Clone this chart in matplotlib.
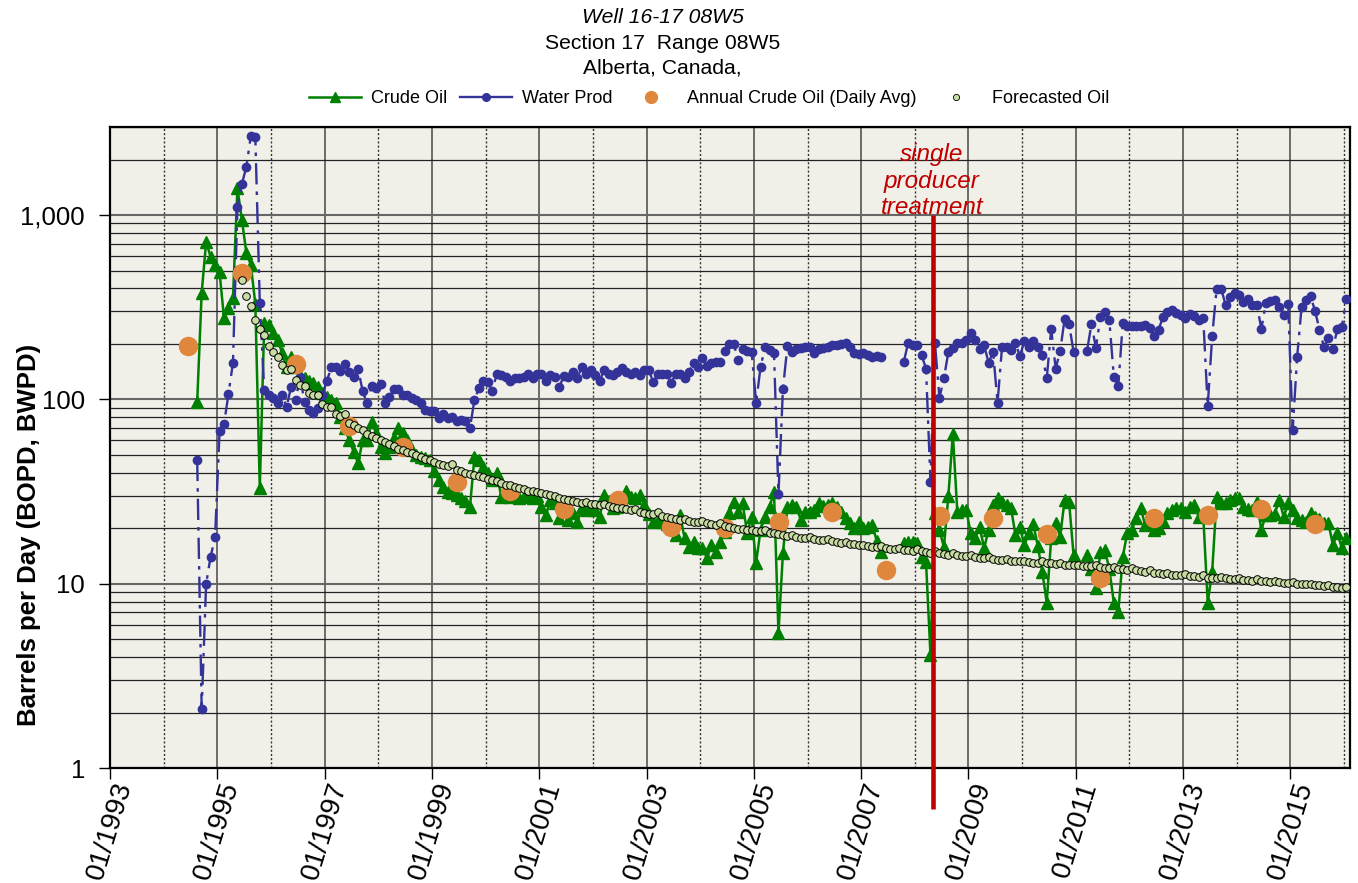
"""
Well 16-17 08W5 production plot: crude oil, water, annual average and forecast.
"""
import numpy as np
import matplotlib
matplotlib.use("Agg")
import matplotlib.pyplot as plt
from matplotlib.lines import Line2D
from matplotlib.ticker import FixedLocator, NullFormatter

plt.rcParams["font.family"] = ["Liberation Sans", "DejaVu Sans"]

NAN = np.nan

# monthly series start in Aug 1994 (one value per month)
MONTHLY_START = 1994 + 7 / 12

crude_oil = [
    97, 378, 714, 593, 536, 490, 276, 313, 355, 1400, 940, 623, 536, 330, 33,
    260, 252, 229, 210, 178, 150, 170, 150, 133, 130, 125, 123,
    117, 108, 103, 99, 96, 80, 70, 60, 52, 45,
    60, 60, 75, 66, 55, 51, 55, 62, 70, 66, 60, 53, 50, 48.5, 48, 47, 41, 36.5,
    33.5, 31.5, 31, 30.2, 29.2, 28, 26,
    48.5, 47, 43, 40, 36.5, 40, 29.5, 30, 29.5, 30, 29.2, 29.5, 29.8, 29.2, 30,
    26, 23.5, 28.5, 27.3, 22.7, 25, 22.2, 24.3, 21.6, 26, 25, 26, 25, 23, 30.2,
    28, 25.8, 26, 28, 32, 29.5, 29, 30.2,
    26.8, 24, 21.6, 22, 21.5, 21, 20, 18.4, 23.6, 17.7, 15.8, 16.8, 15.6, 15.6,
    13.8, 16.2, 14.9, 16.8, 19, 24.3, 27.7, 24.5, 27.3, 18.8, 23, 13, 19.6, 23,
    26, 31.5, 5.4,
    14.7, 26, 26.8, 26, 22.2, 24.5, 24.5, 25, 27.3, 26.5, 26.8, 27.3, 26, 24.5,
    22.7, 21.3, 20, 21.6, 20, 20.3, 20.8, 17, 14.9,
    NAN, NAN, NAN, NAN,
    16.6, 16.8, 16.8, 16.6, 14, 13.1, 4.1, 24.2, 19.5, 15.8, 30, 65, 24.5, 25,
    25, 18.8, 17.7, 20.3, 15.6, 19.6, 26.8, 29.2, 27.7, 26.8, 25.8, 18.4,
    20.3, 16.2, 18.8, 21, 16, 11.6, 7.9, 17.7, 21.3, 18, 28.5, 27.7, 14.3,
    NAN, NAN,
    14.3, 12, 9.5, 14.8, 15.2, 12, 7.9, 7.0, 14, 18.8, 19.6, 22.7, 25.8, 20.8,
    21.3, 19.6, 20, 22, 24.3, 25, 25.8, 25.8, 24.5, 26, 26.8, 23, 23.5, 7.9,
    11.6, 29.5, 27.3, 27.3, 28.5, 29.2, 29, 26, 25.5, 25, 27.7, 19.6, 23.6,
    23.6, 24, 28.5, 23, 27.3, 25, 22.7, 22.2, 21.6, 24.3, 23, 22.5, 21.3, 21.3,
    16.2, 18.8, 15.6, 17.7,
]

water_prod = [
    47, 2.1, 10, 14, 17.9, 67, 73.5, 107, 158, 1107, 1475, 1824, 2690, 2660, 334,
    112, 106, 102, 96, 106, 91, 117, 99, 133, 97, 88, 84, 90, 106, 126,
    149, 149, 143, 155, 141, 133, 146, 111, 95, 118, 115, 121, 96, 103, 114, 114,
    106, 106, 102, 99, 95.7, 88, 87, 87, 79, 83, 79, 80, 76, 77, 76, 70,
    99, 115, 126, 124, 111, 138, 135, 133, 126, 130, 130, 133, 137, 130, 138,
    137, 126, 135, 133, 117, 134, 133, 141, 130, 150, 138, 144, 135, 126, 144,
    138, 135, 140, 148, 140, 138, 141, 135, 144, 144, 124, 137, 137, 137, 122,
    138, 138, 130, 141,
    158, 149, 168, 151, 158, 160, 160, 183, 199, 199, 164, 188, 183, 181, 96,
    150, 192, 185, 179, 30.5, 114, 194, 181, 188, 190, 192, 192, 179, 188, 190,
    192, 198, 196, 200, 202, 192, 179, 176, 178, 174, 170, 172, 170,
    NAN, NAN, NAN, NAN,
    159, 202, 198, 198, 174, 147, 35.7, 202, 102, 130, 181, 190, 202, 202, 210,
    229, 210, 188, 196, 158, 181, 96, 192, 192, 185, 202, 172, 207, 192, 207,
    192, 174, 130, 240, 147, 183, 273, 256, 181,
    NAN, NAN,
    183, 256, 190, 281, 298, 268, 133, 118, 260, 250, 250, 250, 250, 253, 245,
    220, 239, 279, 298, 306, 295, 286, 277, 290, 283, 269, 277, 92, 220, 399,
    399, 325, 360, 377, 369, 338, 352, 325, 325, 241, 333, 342, 348, 318, 286,
    330, 68, 170, 318, 348, 363, 302, 239, 192, 215, 188, 241, 247, 352,
]

# forecast starts in Jun 1995 (one value per month)
FORECAST_START = 1995 + 5 / 12
forecast_oil = [
    444, 364, 321, 270, 241, 224, 195, 181, 170, 154, 144, 146, 127, 120, 118,
    108, 105, 105, 94, 91, 91, 83, 81, 83, 74.5, 73,
    70, 68, 65, 63, 62, 60, 59, 57.5, 56, 54, 53, 52, 51, 50, 48.5, 47.5, 47,
    45.5, 44.5, 44, 43.5, 44.5, 41.5, 41,
    40, 39.5, 39, 38.5, 38, 37, 36.5, 36, 35, 34.5, 34.3, 33.5, 33, 32.5, 32,
    31.8, 31.5, 31, 30.5, 30.2, 29.8, 29.2, 28.8, 28.6, 28.2, 27.7, 27.5, 27.7,
    27.2, 27, 26.8, 27, 26.3, 26, 25.8, 25.6,
    25.4, 25.2, 25.3, 24.5, 24.3, 24, 23.8, 24.5, 23.2, 23, 22.6, 22.3, 22.2,
    22.4, 21.8, 21.6, 21.5, 21.8, 21.3, 21, 20.8, 21.3, 20.5, 20.3, 20, 19.9,
    19.7, 19.6, 19.6, 19.4, 19.2, 19.6, 18.9, 18.8, 18.7, 18.4,
    18.1, 18.3, 17.9, 17.8, 17.7, 18, 17.4, 17.3, 17.2, 17.5, 17, 16.8, 16.7,
    16.9, 16.5, 16.4, 16.2, 16.3, 16, 15.9, 15.8, 16.1, 15.6, 15.5, 15.4, 15.6,
    15.3, 15.2, 15.1, 15.4, 15, 14.8, 14.7, 15, 14.6, 14.5,
    14.4, 14.7, 14.3, 14.2, 14.1, 14.3, 13.9, 13.8, 13.8, 14, 13.6, 13.5, 13.4,
    13.6, 13.3, 13.2,
    13.2, 13.3, 13.1, 13.0, 13.0, 13.2, 12.9, 12.9, 12.8, 13.0, 12.7, 12.7,
    12.6, 12.7, 12.5, 12.4, 12.4, 12.6, 12.3, 12.2, 12.1, 12.3, 12.0, 12.0,
    11.9, 12.1, 11.8, 11.7, 11.6, 11.8, 11.5, 11.4, 11.3, 11.5, 11.2, 11.1,
    11.1, 11.3, 11.0, 11.0, 10.9, 11.1, 10.8, 10.8, 10.7, 10.9, 10.7, 10.6,
    10.6, 10.8, 10.5, 10.5, 10.4, 10.6, 10.3, 10.3, 10.2, 10.4, 10.2, 10.1,
    10.1, 10.2, 10.0, 9.9, 9.9, 10.0, 9.8, 9.8, 9.7, 9.8, 9.6, 9.6, 9.5, 9.6,
]

annual_years = list(range(1994, 2016))
annual_oil = [195, 485, 156, 72, 55, 35.6, 31.8, 25.4, 28.5, 20.3, 20, 21.6,
              24.5, 11.9, 23.3, 22.7, 18.6, 10.7, 22.7, 23.6, 25.4, 21.1]

treatment_date = 2008.34
treatment_label = "single\nproducer\ntreatment"

title_lines = ["Well 16-17 08W5", "Section 17  Range 08W5", "Alberta, Canada,"]

x_major = list(range(1993, 2016, 2))
x_minor = list(range(1994, 2017, 2))
y_major = [1, 10, 100, 1000]
y_major_labels = ["1", "10", "100", "1,000"]


def month_x(start, n):
    return start + (np.arange(n) + 0.5) / 12


fig = plt.figure(figsize=(13.58, 8.83), dpi=100)
ax = fig.add_axes([0.081, 0.1302, 0.9131, 0.7259])
ax.set_facecolor("#F0EFE8")

GREEN = "#008000"
BLUE = "#333399"
ORANGE = "#E0873E"
PALE = "#C9DCA4"
RED = "#C00000"

x_crude = month_x(MONTHLY_START, len(crude_oil))
x_water = month_x(MONTHLY_START, len(water_prod))
x_fc = month_x(FORECAST_START, len(forecast_oil))
x_annual = np.array(annual_years) + 0.46

ax.plot(x_crude, crude_oil, color=GREEN, lw=1.8, marker="^", ms=8.5,
        mec=GREEN, zorder=3)
ax.plot(x_water, water_prod, color=BLUE, lw=1.7, ls=(0, (9, 3, 1.5, 3)),
        marker="o", ms=6, mec=BLUE, zorder=4)
ax.plot(x_annual, annual_oil, ls="none", marker="o", ms=13, color=ORANGE,
        mec=ORANGE, zorder=5)
ax.plot(x_fc, forecast_oil, ls="none", marker="o", ms=5.5, mfc=PALE,
        mec="black", mew=0.7, zorder=6)

ax.plot([treatment_date, treatment_date], [0.6, 1000], color=RED, lw=3.3,
        zorder=7, clip_on=False, solid_capstyle="butt")
ax.text(treatment_date - 0.02, 2450, treatment_label, color=RED,
        style="italic", fontsize=17.5, ha="center", va="top",
        linespacing=1.18, zorder=8)

ax.set_yscale("log")
ax.set_ylim(1, 3000)
ax.set_xlim(1993, 2016.11)

ax.yaxis.set_major_locator(FixedLocator(y_major))
ax.set_yticklabels(y_major_labels, fontsize=18.5)
ax.yaxis.set_minor_locator(FixedLocator(
    [m * d for d in (1, 10, 100, 1000) for m in range(2, 10)]))
ax.yaxis.set_minor_formatter(NullFormatter())
ax.tick_params(axis="y", which="major", length=8, width=1, direction="out",
               pad=10)
ax.tick_params(axis="y", which="minor", length=0)

ax.xaxis.set_major_locator(FixedLocator(x_major))
ax.set_xticklabels([f"01/{y}" for y in x_major], fontsize=20, rotation=73,
                   ha="center", va="top")
ax.xaxis.set_minor_locator(FixedLocator(x_minor))
ax.tick_params(axis="x", which="major", length=8, width=1, direction="out",
               pad=0)
ax.tick_params(axis="x", which="minor", length=0)

ax.grid(True, which="major", axis="x", color="#555555", lw=1.2)
ax.grid(True, which="minor", axis="x", color="#333333", lw=1.0,
        ls=(0, (1.5, 1.5)))
ax.grid(True, which="major", axis="y", color="#666666", lw=1.5)
ax.grid(True, which="minor", axis="y", color="#222222", lw=0.9)
ax.set_axisbelow(True)
for sp in ax.spines.values():
    sp.set_linewidth(1.6)
    sp.set_color("black")

fig.text(0.021, 0.394, "Barrels per Day (BOPD, BWPD)", rotation=90,
         fontsize=18.5, fontweight="bold", ha="center", va="center")

fig.text(0.488, 0.980, title_lines[0], style="italic", fontsize=15.2,
         ha="center", va="center")
fig.text(0.488, 0.951, title_lines[1], fontsize=15.2, ha="center", va="center")
fig.text(0.488, 0.923, title_lines[2], fontsize=15.2, ha="center", va="center")

handles = [
    Line2D([], [], color=GREEN, lw=1.8, marker="^", ms=7.5),
    Line2D([], [], color=BLUE, lw=1.7, marker="o", ms=5.5),
    Line2D([], [], ls="none", marker="o", ms=8.5, color=ORANGE),
    Line2D([], [], ls="none", marker="o", ms=4.5, mfc=PALE, mec="black",
           mew=0.6),
]
labels = ["Crude Oil", "Water Prod", "Annual Crude Oil (Daily Avg)",
          "Forecasted Oil"]
fig.legend(handles, labels, loc="center", bbox_to_anchor=(0.522, 0.888),
           ncol=4, frameon=False, fontsize=13, handlelength=2.9,
           columnspacing=0.7, handletextpad=0.55)

fig.savefig("out.png", dpi=100)
